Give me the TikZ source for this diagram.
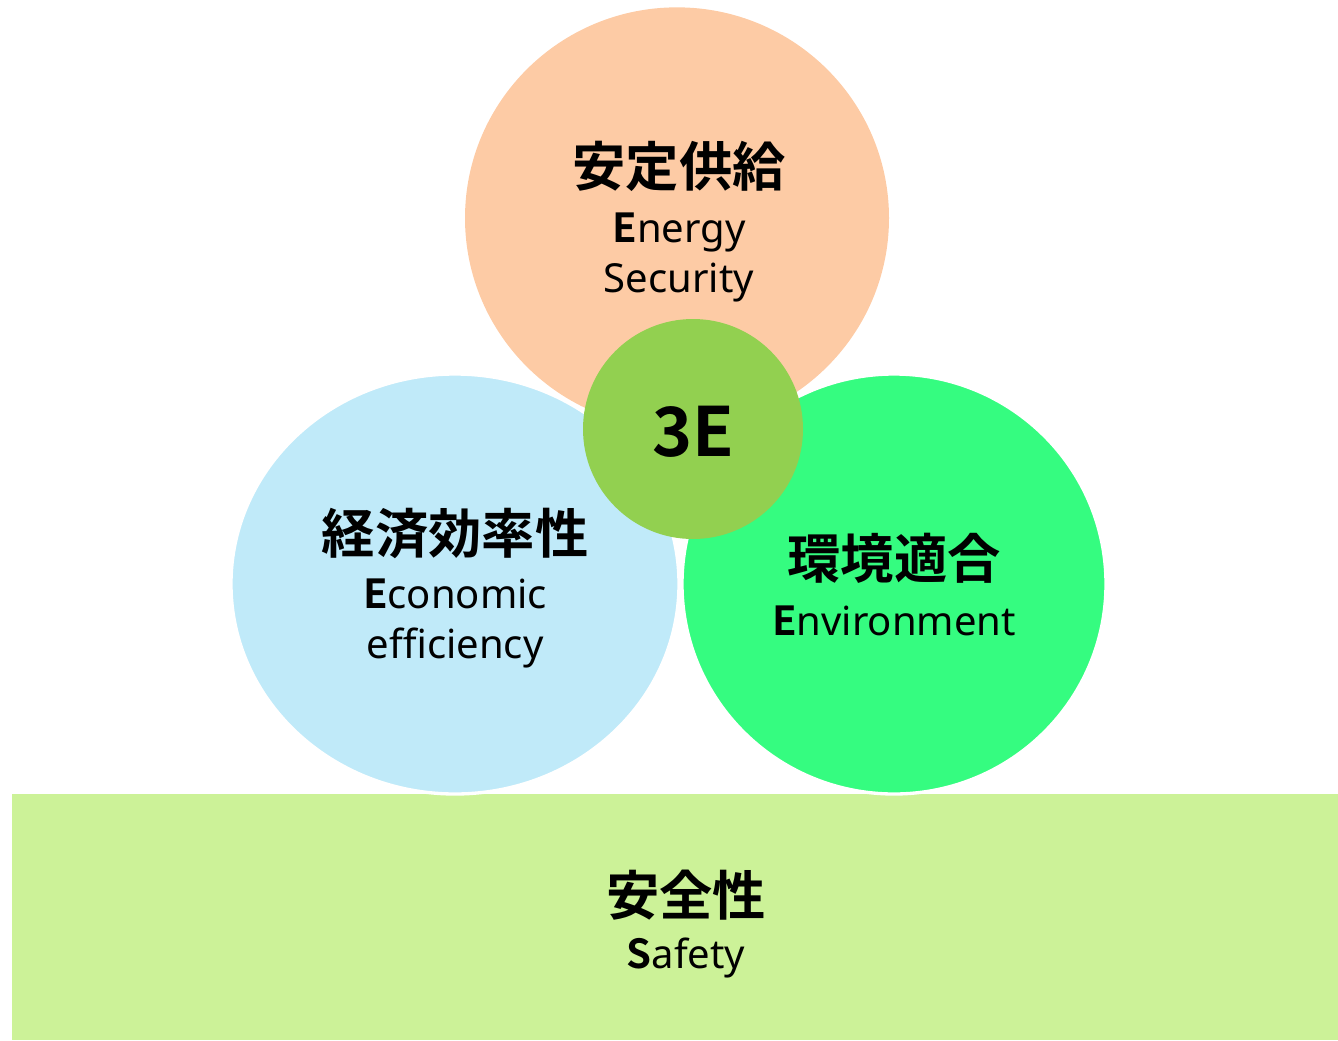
\documentclass[tikz,border=0pt]{standalone}
\usepackage{fontspec}
\setmainfont{Noto Sans}[BoldFont={Noto Sans CJK JP Bold}]
\newfontfamily\jpfont{Noto Sans CJK JP}[BoldFont={* Bold}]
\usetikzlibrary{shapes.geometric}
\definecolor{secfill}{HTML}{FDCBA5}
\definecolor{ecofill}{HTML}{C0EAF9}
\definecolor{envfill}{HTML}{35FC80}
\definecolor{hubfill}{HTML}{92D050}
\definecolor{safefill}{HTML}{CCF298}
\begin{document}
\begin{tikzpicture}[x=0.75pt, y=-0.75pt,
  area/.style = {ellipse, inner sep=0pt, outer sep=0pt},
  jp/.style = {font=\jpfont\bfseries\fontsize{40}{48}\selectfont},
  en/.style = {font=\fontsize{30}{37.5}\selectfont, align=center}]
\useasboundingbox (0,0) rectangle (1338,1040);
\fill[safefill] (12,794) rectangle (1338,1040);
\node[area, fill=secfill, minimum width=318pt, minimum height=316pt] (sec) at (677,218) {};
\node[area, fill=ecofill, draw=white, line width=2.5pt, minimum width=336pt, minimum height=315pt] (eco) at (455,584) {};
\node[area, fill=envfill, draw=white, line width=2.5pt, minimum width=318pt, minimum height=315pt] (env) at (894,584) {};
\node[area, fill=hubfill, minimum width=165pt, minimum height=165pt] (hub) at (693,429) {};
\node[font=\bfseries\fontsize{51}{60}\selectfont] (hubtxt) at (693,432) {3E};
\node[jp] (secjp) at (679,166) {安定供給};
\node[en] (secen) at (679,257) {\textbf{E}nergy\\Security};
\node[jp] (ecojp) at (455,533) {経済効率性};
\node[en] (ecoen) at (455,623) {\textbf{E}conomic\\efficiency};
\node[jp] (envjp) at (894,558) {環境適合};
\node[en] (envhen) at (894,621) {\textbf{E}nvironment};
\node[jp] (safejp) at (686,895) {安全性};
\node[en] (safeen) at (686,958) {\textbf{S}afety};
\end{tikzpicture}
\end{document}
